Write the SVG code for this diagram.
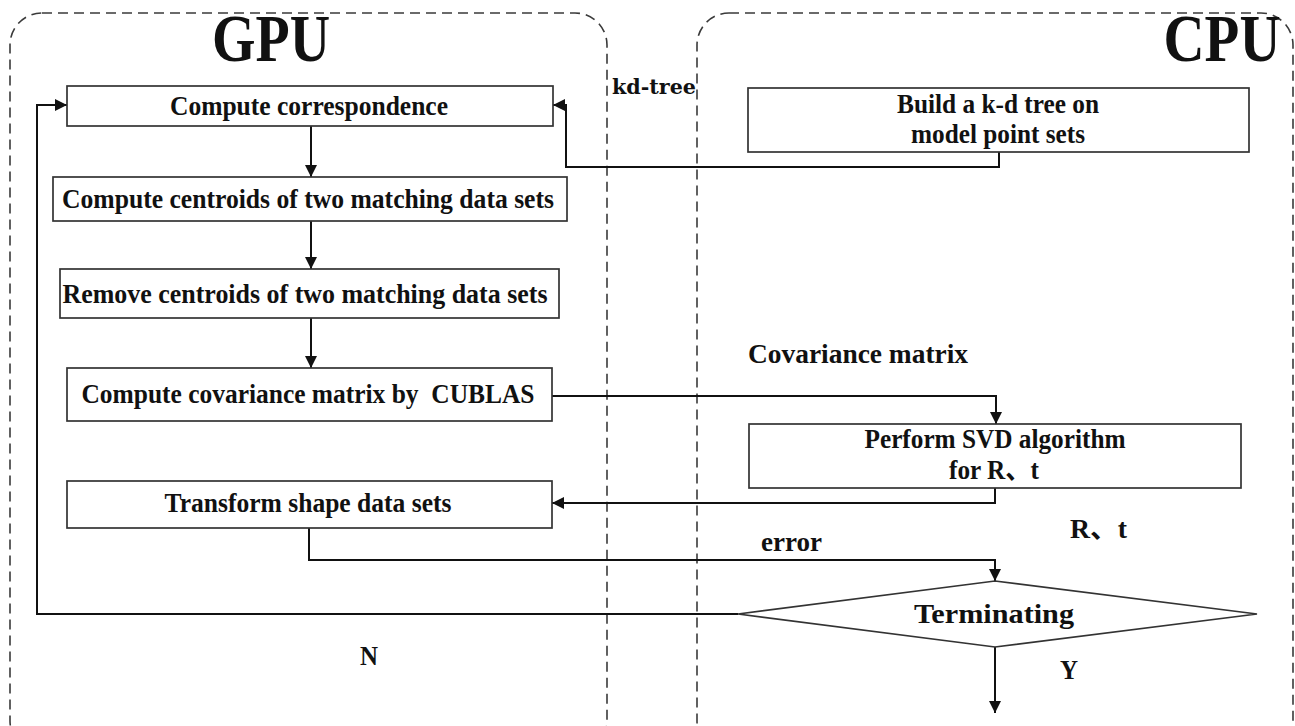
<svg xmlns="http://www.w3.org/2000/svg" width="1295" height="726" viewBox="0 0 1295 726">
<defs>
<style>
.lane{fill:none;stroke:#3a3a3a;stroke-width:1.6;stroke-dasharray:10,6}
.box{fill:#fff;stroke:#333;stroke-width:1.7}
.t{font-family:"Liberation Serif","Times New Roman",serif;font-weight:bold;font-size:27px;fill:#111;text-anchor:middle}
.lbl{font-family:"Liberation Serif","Noto Sans CJK SC",serif;font-weight:bold;font-size:27px;fill:#111}
.big{font-family:"Liberation Serif","Times New Roman",serif;font-weight:bold;font-size:60px;fill:#111;text-anchor:middle}
.c{fill:none;stroke:#111;stroke-width:2}
</style>
<marker id="ah" viewBox="0 0 12 12" refX="12" refY="6" markerWidth="12" markerHeight="12" markerUnits="userSpaceOnUse" orient="auto">
<path d="M0,0 L12,6 L0,12 z" fill="#111"/>
</marker>
</defs>
<rect width="1295" height="726" fill="#fff"/>

<g id="gpu-lane">
<rect class="lane" x="10" y="13" width="597" height="740" rx="32" ry="32"/>
<text class="big" x="271" y="58" textLength="118" lengthAdjust="spacingAndGlyphs" transform="translate(0,-4) scale(1,1.12)">GPU</text>
</g>
<g id="cpu-lane">
<rect class="lane" x="697" y="13" width="596" height="740" rx="32" ry="32"/>
<text class="big" x="1222" y="58" textLength="117" lengthAdjust="spacingAndGlyphs" transform="translate(0,-4) scale(1,1.12)">CPU</text>
</g>

<g id="connectors">
<path class="c" d="M311,126 V177" marker-end="url(#ah)"/>
<path class="c" d="M311,221 V269" marker-end="url(#ah)"/>
<path class="c" d="M311,318 V368" marker-end="url(#ah)"/>
<path class="c" d="M999,152 V167 H566 V105 H553" marker-end="url(#ah)"/>
<path class="c" d="M552,396 H996 V424" marker-end="url(#ah)"/>
<path class="c" d="M995,488 V503 H552" marker-end="url(#ah)"/>
<path class="c" d="M309,528 V560 H995 V581" marker-end="url(#ah)"/>
<path class="c" d="M738,614 H37 V105 H67" marker-end="url(#ah)"/>
<path class="c" d="M995,647 V713" marker-end="url(#ah)"/>
<text class="lbl" x="612" y="94" textLength="84" lengthAdjust="spacingAndGlyphs" style="font-family:'DejaVu Serif',serif;font-size:20px">kd-tree</text>
<text class="lbl" x="748" y="363" textLength="220" lengthAdjust="spacingAndGlyphs">Covariance matrix</text>
<text class="lbl" x="1070" y="538" textLength="57" lengthAdjust="spacingAndGlyphs">R、t</text>
<text class="lbl" x="761" y="551" textLength="61" lengthAdjust="spacingAndGlyphs">error</text>
<text class="t" x="369" y="665" textLength="18" lengthAdjust="spacingAndGlyphs">N</text>
<text class="t" x="1069" y="679" textLength="18" lengthAdjust="spacingAndGlyphs">Y</text>
</g>

<g id="n-correspondence">
<rect class="box" x="67" y="86" width="486" height="40"/>
<text class="t" x="309" y="115" textLength="278" lengthAdjust="spacingAndGlyphs">Compute correspondence</text>
</g>
<g id="n-centroids">
<rect class="box" x="53" y="177" width="514" height="44"/>
<text class="t" x="308" y="208" textLength="492" lengthAdjust="spacingAndGlyphs">Compute centroids of two matching data sets</text>
</g>
<g id="n-remove">
<rect class="box" x="60" y="269" width="499" height="49"/>
<text class="t" x="305" y="303" textLength="485" lengthAdjust="spacingAndGlyphs">Remove centroids of two matching data sets</text>
</g>
<g id="n-covariance">
<rect class="box" x="67" y="368" width="485" height="53"/>
<text class="t" x="308" y="403" textLength="453" lengthAdjust="spacingAndGlyphs" xml:space="preserve">Compute covariance matrix by  CUBLAS</text>
</g>
<g id="n-transform">
<rect class="box" x="67" y="481" width="485" height="47"/>
<text class="t" x="308" y="512" textLength="287" lengthAdjust="spacingAndGlyphs">Transform shape data sets</text>
</g>
<g id="n-kdtree">
<rect class="box" x="748" y="88" width="501" height="64"/>
<text class="t" x="998" y="113" textLength="202" lengthAdjust="spacingAndGlyphs">Build a k-d tree on</text>
<text class="t" x="998" y="143" textLength="174" lengthAdjust="spacingAndGlyphs">model point sets</text>
</g>
<g id="n-svd">
<rect class="box" x="749" y="424" width="492" height="64"/>
<text class="t" x="995" y="448" textLength="261" lengthAdjust="spacingAndGlyphs">Perform SVD algorithm</text>
<text class="t" x="994" y="479" textLength="90" lengthAdjust="spacingAndGlyphs" style="font-family:'Liberation Serif','Noto Sans CJK SC',serif">for R、t</text>
</g>
<g id="n-terminating">
<polygon class="box" points="995,581 1257,614 995,647 738,614"/>
<text class="t" x="994" y="623" textLength="160" lengthAdjust="spacingAndGlyphs">Terminating</text>
</g>
</svg>
